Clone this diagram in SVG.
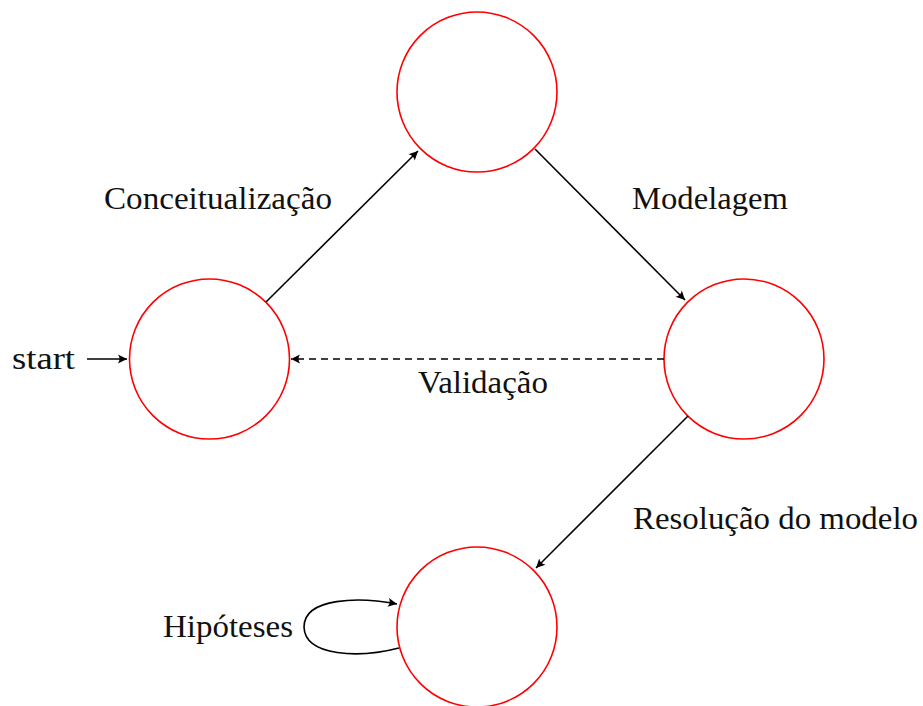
<svg xmlns="http://www.w3.org/2000/svg" width="923" height="706" viewBox="0 0 923 706">
<style>
.node{fill:none;stroke:#ff0000;stroke-width:1.6}
.edge{fill:none;stroke:#000;stroke-width:1.6}
.dash{stroke-dasharray:7,5}
text{font-family:"Liberation Serif","DejaVu Serif",serif;font-size:31px;fill:#111}
</style>
<defs>
<marker id="ah" viewBox="-10 -6 12 12" refX="0" refY="0" markerWidth="12" markerHeight="12" markerUnits="userSpaceOnUse" orient="auto">
<path d="M0,0 L-9,-4.5 Q-6,0 -9,4.5 Z" fill="#000"/>
</marker>
</defs>
<rect width="923" height="706" fill="#fff"/>
<g id="n-left"><circle class="node" cx="209.5" cy="359" r="80"/></g>
<g id="n-top"><circle class="node" cx="477" cy="92" r="80"/></g>
<g id="n-right"><circle class="node" cx="744" cy="359" r="80"/></g>
<g id="n-bottom"><circle class="node" cx="477" cy="627" r="80"/></g>
<g id="edges">
<line class="edge" x1="87" y1="359" x2="127" y2="359" marker-end="url(#ah)"/>
<line class="edge" x1="266" y1="302" x2="418" y2="151" marker-end="url(#ah)"/>
<line class="edge" x1="535" y1="149" x2="685" y2="300" marker-end="url(#ah)"/>
<line class="edge dash" x1="664" y1="359" x2="291" y2="359" marker-end="url(#ah)"/>
<line class="edge" x1="688" y1="416" x2="536" y2="568" marker-end="url(#ah)"/>
<path class="edge" d="M399,648 C360,658 305,657 304,627 C304,597 360,597 397,604" marker-end="url(#ah)"/>
</g>
<g id="labels">
<text x="104" y="209" textLength="228" lengthAdjust="spacingAndGlyphs">Conceitualização</text>
<text x="632" y="209" textLength="156" lengthAdjust="spacingAndGlyphs">Modelagem</text>
<text x="12" y="369" textLength="63" lengthAdjust="spacingAndGlyphs">start</text>
<text x="418" y="393" textLength="130" lengthAdjust="spacingAndGlyphs">Validação</text>
<text x="633" y="529" textLength="285" lengthAdjust="spacingAndGlyphs">Resolução do modelo</text>
<text x="163" y="637" textLength="130" lengthAdjust="spacingAndGlyphs">Hipóteses</text>
</g>
</svg>
